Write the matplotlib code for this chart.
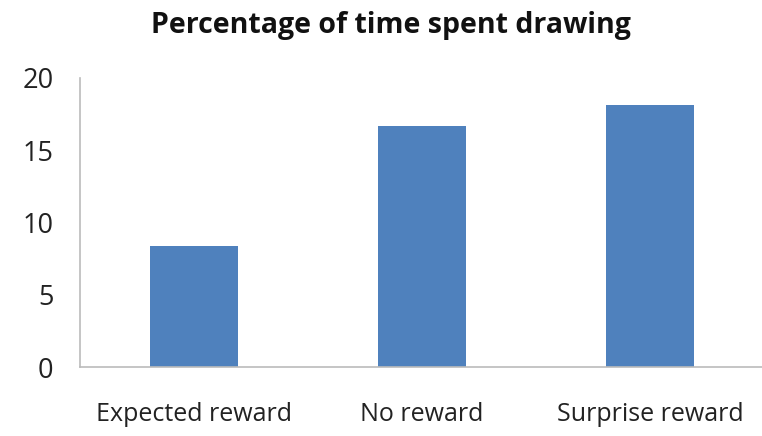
import matplotlib.pyplot as plt

# data
categories = ["Expected reward", "No reward", "Surprise reward"]
values = [8.4, 16.7, 18.1]
yticks = [0, 5, 10, 15, 20]

plt.rcParams['font.family'] = ['Open Sans', 'DejaVu Sans']

fig = plt.figure(figsize=(7.62, 4.36), dpi=100)
ax = fig.add_axes([80 / 762, (436 - 367) / 436, (764 - 80) / 762, (367 - 78) / 436])

ax.bar(range(len(categories)), values, width=0.39, color="#4F81BD")

ax.set_xlim(-0.5, len(categories) - 0.5)
ax.set_ylim(0, 20)
ax.set_yticks(yticks)
ax.set_xticks(range(len(categories)))
ax.set_xticklabels(categories)
ax.tick_params(length=0, colors="#222222")
ax.tick_params(axis="y", pad=19, labelsize=19.5)
ax.tick_params(axis="x", pad=25, labelsize=18)

for s in ["top", "right"]:
    ax.spines[s].set_visible(False)
for s in ["left", "bottom"]:
    ax.spines[s].set_color("#BBBBBB")
    ax.spines[s].set_linewidth(1.2)

fig.text(0.5 + 10 / 762, 1 - 25 / 436, "Percentage of time spent drawing",
         ha="center", va="center", fontsize=20.5, fontweight="bold", color="#111111")

fig.savefig("out.png", dpi=100)
